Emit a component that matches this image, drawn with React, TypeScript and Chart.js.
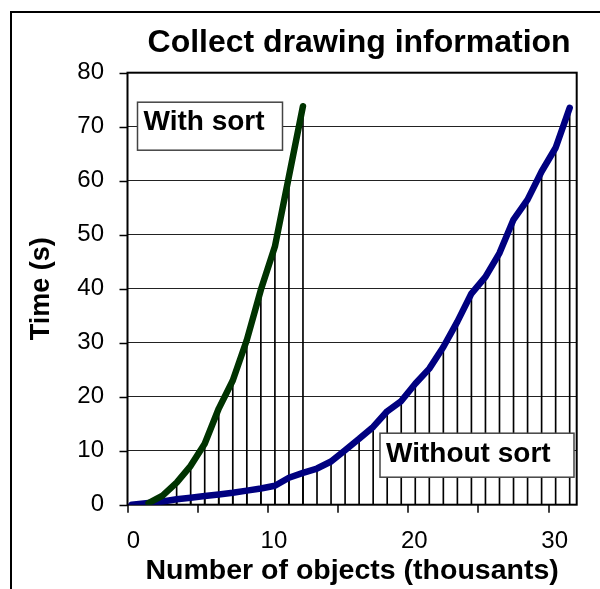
import { useEffect, useRef } from 'react';
import { Chart, registerables } from 'chart.js';

Chart.register(...registerables);

// ---- data ----
const withSortX = [1.5, 2.5, 3.5, 4.5, 5.5, 6.5, 7.5, 8.5, 9.5, 10.5, 11.5, 12.5];
const withSortY = [0.3, 1.7, 4.1, 7.2, 11.3, 17.8, 23.0, 30.5, 39.8, 47.8, 60.8, 73.8];

const withoutSortX = [
  0.3, 1.5, 2.5, 3.5, 4.5, 5.5, 6.5, 7.5, 8.5, 9.5, 10.5, 11.5, 12.5, 13.5, 14.5, 15.5,
  16.5, 17.5, 18.5, 19.5, 20.5, 21.5, 22.5, 23.5, 24.5, 25.5, 26.5, 27.5, 28.5, 29.5, 30.5, 31.5,
];
const withoutSortY = [
  0, 0.3, 0.6, 1.0, 1.3, 1.6, 1.9, 2.2, 2.6, 3.0, 3.5, 5.0, 5.9, 6.7, 8.0, 10.1,
  12.2, 14.4, 17.3, 19.2, 22.4, 25.2, 29.2, 33.9, 39.1, 42.2, 46.6, 52.8, 56.5, 61.7, 66.1, 73.5,
];

const xLabeledTicks = [0, 10, 20, 30];
const seriesNames = ['With sort', 'Without sort'];
const chartTitle = 'Collect drawing information';
const xTitle = 'Number of objects (thousants)';
const yTitle = 'Time (s)';

const FONT = "'Liberation Sans', Arial, Helvetica, sans-serif";
const TICK_LEN = 8;

export default function App() {
  const ref = useRef<HTMLCanvasElement>(null);

  useEffect(() => {
    if (!ref.current) return;
    const green = withSortX.map((x, i) => ({ x, y: withSortY[i] }));
    const blue = withoutSortX.map((x, i) => ({ x, y: withoutSortY[i] }));

    const decor = {
      id: 'decor',
      afterLayout(chart: any) {
        const t = chart.titleBlock;
        const ca = chart.chartArea;
        if (t && ca) {
          t.left = ca.left + 7;
          t.right = ca.right + 7;
        }
      },
      beforeDraw(chart: any) {
        const ctx = chart.ctx;
        ctx.save();
        ctx.fillStyle = '#fff';
        ctx.fillRect(0, 0, chart.width, chart.height);
        ctx.strokeStyle = '#000';
        ctx.lineWidth = 2;
        ctx.strokeRect(11, 12, 800, 800);
        ctx.restore();
      },
      beforeDatasetsDraw(chart: any) {
        const ctx = chart.ctx;
        const ca = chart.chartArea;
        const xs = chart.scales.x;
        const ys = chart.scales.y;
        ctx.save();
        // tick marks outside the plot area
        ctx.strokeStyle = '#000';
        ctx.lineWidth = 1.5;
        ctx.beginPath();
        for (const t of xs.ticks) {
          const px = Math.round(xs.getPixelForValue(t.value));
          ctx.moveTo(px, ca.bottom);
          ctx.lineTo(px, ca.bottom + TICK_LEN);
        }
        for (const t of ys.ticks) {
          const py = Math.round(ys.getPixelForValue(t.value)) + 0.5;
          ctx.moveTo(ca.left - TICK_LEN, py);
          ctx.lineTo(ca.left, py);
        }
        ctx.stroke();
        // plot frame
        ctx.lineWidth = 2;
        ctx.strokeRect(ca.left, ca.top, ca.right - ca.left, ca.bottom - ca.top);
        ctx.restore();
      },
      afterDatasetsDraw(chart: any) {
        const ctx = chart.ctx;
        const ca = chart.chartArea;
        const boxes = [
          { text: seriesNames[0], left: ca.left + 10, top: ca.top + 29.5, w: 145, h: 48, base: 28 },
          { text: seriesNames[1], left: ca.left + 252.5, top: ca.top + 360.5, w: 194, h: 44, base: 29 },
        ];
        ctx.save();
        for (const b of boxes) {
          ctx.fillStyle = '#fff';
          ctx.fillRect(b.left, b.top, b.w, b.h);
          ctx.strokeStyle = '#444';
          ctx.lineWidth = 1.5;
          ctx.strokeRect(b.left, b.top, b.w, b.h);
          ctx.fillStyle = '#000';
          ctx.font = `bold 28px ${FONT}`;
          ctx.textBaseline = 'alphabetic';
          ctx.textAlign = 'left';
          ctx.fillText(b.text, b.left + 6, b.top + b.base);
        }
        ctx.restore();
      },
    };

    const chart = new Chart(ref.current, {
      type: 'line',
      data: {
        datasets: [
          {
            type: 'line',
            label: seriesNames[0],
            data: green,
            borderColor: '#003300',
            borderWidth: 6.5,
            pointRadius: 0,
            tension: 0,
            borderCapStyle: 'round',
            borderJoinStyle: 'round',
            order: 0,
          },
          {
            type: 'line',
            label: seriesNames[1],
            data: blue,
            borderColor: '#000080',
            borderWidth: 6.5,
            pointRadius: 0,
            tension: 0,
            borderCapStyle: 'round',
            borderJoinStyle: 'round',
            order: 1,
          },
          {
            type: 'bar',
            label: 'drop1',
            data: green,
            backgroundColor: '#000',
            borderWidth: 0,
            barThickness: 1,
            grouped: false,
            order: 2,
          } as any,
          {
            type: 'bar',
            label: 'drop2',
            data: blue,
            backgroundColor: '#000',
            borderWidth: 0,
            barThickness: 1,
            grouped: false,
            order: 3,
          } as any,
        ],
      },
      options: {
        responsive: false,
        animation: false,
        layout: { padding: { left: 0, right: 23.3, top: 0, bottom: 0 } },
        plugins: {
          legend: { display: false },
          tooltip: { enabled: false },
          title: {
            display: true,
            text: chartTitle,
            fullSize: false,
            color: '#000',
            font: { family: FONT, size: 32, weight: 'bold', lineHeight: 1.2 },
            padding: { top: 24, bottom: 10.3 },
          },
        },
        scales: {
          x: {
            type: 'linear',
            min: 0,
            max: 32,
            offset: false,
            afterFit: (s: any) => {
              s.height = 84.3;
            },
            ticks: {
              stepSize: 5,
              includeBounds: false,
              autoSkip: false,
              maxRotation: 0,
              labelOffset: 6,
              padding: 14.4 + TICK_LEN,
              color: '#000',
              font: { family: FONT, size: 24 },
              callback: (v: any) => (xLabeledTicks.includes(Number(v)) ? String(v) : ''),
            },
            grid: {
              display: false,
              drawOnChartArea: false,
              drawTicks: false,
            },
            border: { display: false },
            title: {
              display: true,
              text: xTitle,
              color: '#000',
              font: { family: FONT, size: 28.5, weight: 'bold', lineHeight: 1.2 },
              padding: { top: 0, bottom: 1.2 },
            },
          },
          y: {
            type: 'linear',
            min: 0,
            max: 80,
            afterFit: (s: any) => {
              s.width = 127.5;
            },
            ticks: {
              stepSize: 10,
              padding: 15.5 + TICK_LEN,
              color: '#000',
              font: { family: FONT, size: 24 },
            },
            grid: {
              drawOnChartArea: true,
              drawTicks: false,
              color: '#222',
              lineWidth: 1,
            },
            border: { display: false },
            title: {
              display: true,
              text: yTitle,
              color: '#000',
              font: { family: FONT, size: 27, weight: 'bold', lineHeight: 1.2 },
              padding: { top: 25.5, bottom: 0 },
            },
          },
        },
      },
      plugins: [decor],
    } as any);

    return () => chart.destroy();
  }, []);

  return (
    <div style={{ position: 'absolute', left: 0, top: 0, width: 600, height: 589 }}>
      <canvas ref={ref} width={600} height={589} style={{ display: 'block' }} />
    </div>
  );
}
